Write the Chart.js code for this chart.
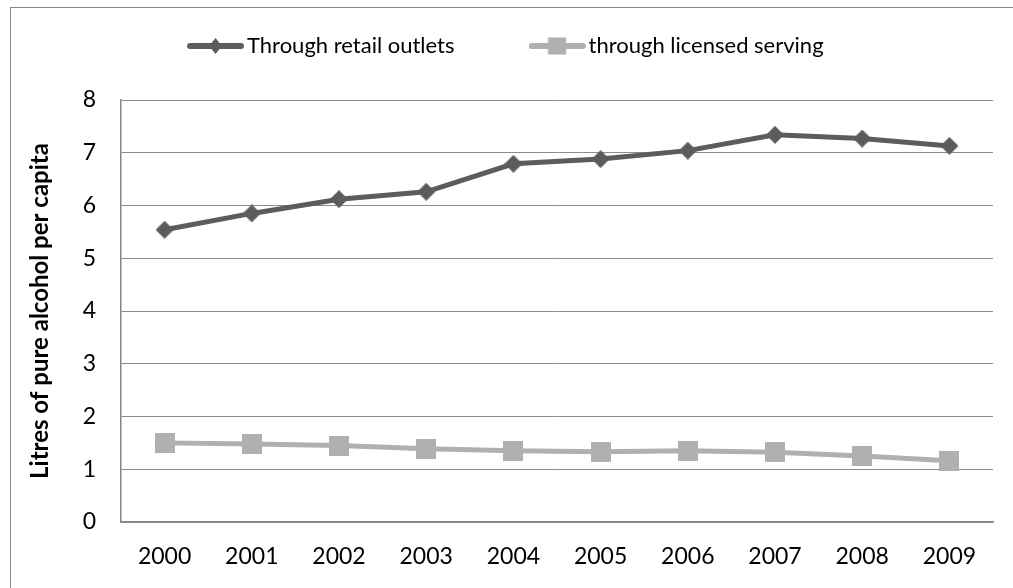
<!DOCTYPE html>
<html>
<head>
<meta charset="utf-8">
<script src="https://cdn.jsdelivr.net/npm/chart.js@4.4.0/dist/chart.umd.min.js"></script>
<style>
  html, body { margin: 0; padding: 0; background: #ffffff; overflow: hidden; }
  #frame { position: absolute; left: 10px; top: 7px; width: 1010px; height: 590px; border: 1px solid #868686; background: #fff; }
  canvas { display: block; }
</style>
</head>
<body>
<div id="frame"><canvas id="c" width="1010" height="590"></canvas></div>
<script>
// ---- data ----
const years = ["2000","2001","2002","2003","2004","2005","2006","2007","2008","2009"];
const retailOutlets = [5.54, 5.85, 6.12, 6.26, 6.79, 6.88, 7.04, 7.34, 7.27, 7.13];
const licensedServing = [1.50, 1.48, 1.45, 1.39, 1.35, 1.33, 1.35, 1.32, 1.25, 1.16];
const seriesNames = ["Through retail outlets", "through licensed serving"];
const yTitle = "Litres of pure alcohol per capita";

// ---- styles ----
const DARK = "#5c5c5c";
const LIGHT = "#b0b0b0";
const FONT = "Lato";
const FS = 22;      // legend
const TFS = 23;     // ticks
const TITLE_FS = 24;

function makeCanvas(w, h, draw) {
  const c = document.createElement("canvas");
  c.width = w; c.height = h;
  draw(c.getContext("2d"), w, h);
  return c;
}
function diamond(ctx, cx, cy, hw, hh, col) {
  ctx.fillStyle = col;
  ctx.beginPath();
  ctx.moveTo(cx, cy - hh); ctx.lineTo(cx + hw, cy); ctx.lineTo(cx, cy + hh); ctx.lineTo(cx - hw, cy);
  ctx.closePath(); ctx.fill();
}
const diamondPt = makeCanvas(18, 18, (ctx) => diamond(ctx, 9, 9, 9, 9, DARK));
const squarePt = makeCanvas(20, 20, (ctx) => { ctx.fillStyle = LIGHT; ctx.fillRect(0, 0, 20, 20); });

const LEG_W = 41;               // reserved box width in legend
const LEG_IMG = LEG_W + 16;     // image width (line + marker)
function legendLine(ctx, w, h, col) {
  ctx.strokeStyle = col; ctx.lineWidth = 6; ctx.lineCap = "round";
  ctx.beginPath(); ctx.moveTo(3, h / 2); ctx.lineTo(w - 3, h / 2); ctx.stroke();
}
const legendDark = makeCanvas(LEG_IMG, 20, (ctx, w, h) => { legendLine(ctx, w, h, DARK); diamond(ctx, w / 2, h / 2, 6.5, 8, DARK); });
const legendLight = makeCanvas(LEG_IMG, 20, (ctx, w, h) => { legendLine(ctx, w, h, LIGHT); ctx.fillStyle = LIGHT; ctx.fillRect(w / 2 - 9, h / 2 - 8.5, 18, 17); });
const legendImgs = [legendDark, legendLight];

const LEG_PAD = 82;

const legendPlacer = {
  id: "legendPlacer",
  afterLayout(chart) {
    const lg = chart.legend;
    if (!lg) return;
    const h = lg.height, w = lg.width;
    lg.top = 38 - FS / 2 - LEG_PAD;
    lg.bottom = lg.top + h;
    lg.left = 184 - LEG_PAD;
    lg.right = lg.left + w;
  }
};

new Chart(document.getElementById("c"), {
  type: "line",
  data: {
    labels: years,
    datasets: [
      { label: seriesNames[0], data: retailOutlets, borderColor: DARK, backgroundColor: DARK,
        borderWidth: 5, pointStyle: diamondPt, pointRadius: 9, tension: 0, fill: false },
      { label: seriesNames[1], data: licensedServing, borderColor: LIGHT, backgroundColor: LIGHT,
        borderWidth: 5, pointStyle: squarePt, pointRadius: 10, tension: 0, fill: false }
    ]
  },
  options: {
    responsive: false,
    animation: false,
    devicePixelRatio: 1,
    layout: { padding: { left: 0, right: 28, bottom: 0, top: 92 - (FS + LEG_PAD + 10) } },
    plugins: {
      tooltip: { enabled: false },
      legend: {
        position: "top",
        align: "start",
        labels: {
          usePointStyle: true,
          pointStyleWidth: LEG_W,
          padding: LEG_PAD,
          color: "#000",
          font: { family: FONT, size: FS },
          generateLabels(chart) {
            const items = Chart.defaults.plugins.legend.labels.generateLabels(chart);
            items.forEach((it, i) => { it.pointStyle = legendImgs[i]; });
            return items;
          }
        }
      }
    },
    scales: {
      x: {
        offset: true,
        grid: { display: false, drawTicks: false },
        border: { display: true, color: "#868686", width: 1.5 },
        ticks: { color: "#000", font: { family: FONT, size: TFS }, padding: 21, maxRotation: 0 },
        afterFit(s) { s.height = 76; }
      },
      y: {
        min: 0, max: 8,
        ticks: { stepSize: 1, color: "#000", font: { family: FONT, size: TFS }, padding: 25 },
        grid: { color: "#8c8c8c", lineWidth: 1, drawTicks: false },
        border: { display: true, color: "#868686", width: 1.5 },
        title: { display: true, text: yTitle, color: "#000", font: { family: FONT, size: TITLE_FS, weight: "bold" }, padding: { top: 15, bottom: 0 } },
        afterFit(s) { s.width = 110; }
      }
    }
  },
  plugins: [legendPlacer]
});
</script>
</body>
</html>
